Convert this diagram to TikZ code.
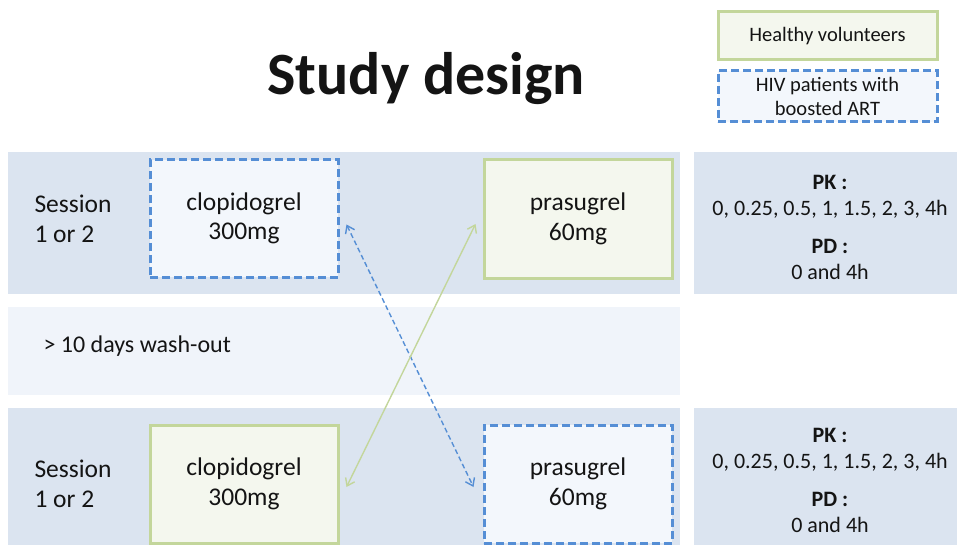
\documentclass[tikz,border=0pt]{standalone}
\usepackage{fontspec}
\setmainfont{Carlito}
\usetikzlibrary{arrows.meta}
\definecolor{rowbg}{RGB}{219,228,240}
\definecolor{washbg}{RGB}{240,244,250}
\definecolor{hivline}{RGB}{85,142,213}
\definecolor{hivfill}{RGB}{243,247,252}
\definecolor{hvline}{RGB}{195,214,155}
\definecolor{hvfill}{RGB}{244,247,238}
\definecolor{txt}{RGB}{20,20,20}
\begin{document}
\begin{tikzpicture}[x=1pt,y=-1pt,
  every node/.style={text=txt},
  band/.style={fill=rowbg,draw=none},
  hivbox/.style={draw=hivline,fill=hivfill,line width=3pt,dash pattern=on 8pt off 4pt,inner sep=0pt,align=center,font=\fontsize{25.5}{29.5}\selectfont},
  hvbox/.style={draw=hvline,fill=hvfill,line width=3pt,inner sep=0pt,align=center,font=\fontsize{25.5}{29.5}\selectfont},
  sess/.style={anchor=west,align=left,font=\fontsize{25.5}{29.5}\selectfont},
  pkpd/.style={align=center,font=\fontsize{22}{25.5}\selectfont},
  hivarrow/.style={draw=hivline,line width=1.4pt,dash pattern=on 5pt off 3pt,{Straight Barb[length=7pt,width=10pt]}-{Straight Barb[length=7pt,width=10pt]}},
  hvarrow/.style={draw=hvline,line width=1.4pt,{Straight Barb[length=7pt,width=10pt]}-{Straight Barb[length=7pt,width=10pt]}}
]
\useasboundingbox[fill=white] (0,0) rectangle (957,545);
% bands
\fill[band] (8,152) rectangle (680,294);
\fill[band] (694,152) rectangle (957,294);
\fill[washbg] (8,307) rectangle (680,395);
\fill[band] (8,408) rectangle (680,545);
\fill[band] (694,408) rectangle (957,545);
% title
\node (title) at (426,79) {\fontsize{60}{66}\selectfont\bfseries Study design};
% legend
\node[hvbox,minimum width=219pt,minimum height=48pt,font=\fontsize{20.5}{24}\selectfont] (leghv) at (827.5,36) {Healthy volunteers};
\node[hivbox,minimum width=219pt,minimum height=51pt,font=\fontsize{20.5}{24}\selectfont] (leghiv) at (827.5,96.5) {HIV patients with\\boosted ART};
% session 1
\node[sess] (s1) at (31,219) {Session\\1 or 2};
\node[hivbox,minimum width=188pt,minimum height=117pt] (ctop) at (244,218.5) {clopidogrel\\300mg\hspace*{0pt}};
\node[hvbox,minimum width=188pt,minimum height=118pt] (ptop) at (578,219) {prasugrel\\60mg};
\node[pkpd] (pk1) at (830,227.5) {\textbf{PK :}\\0, 0.25, 0.5, 1, 1.5, 2, 3, 4h\\[13pt]\textbf{PD :}\\0 and 4h};
% washout
\node[anchor=west,font=\fontsize{24}{28}\selectfont] (wash) at (40,346) {> 10 days wash-out};
% session 2
\node[sess] (s2) at (31,484) {Session\\1 or 2};
\node[hvbox,minimum width=188pt,minimum height=118pt] (cbot) at (244,484) {clopidogrel\\300mg};
\node[hivbox,minimum width=188pt,minimum height=118pt] (pbot) at (578,484) {prasugrel\\60mg};
\node[pkpd] (pk2) at (830,480.5) {\textbf{PK :}\\0, 0.25, 0.5, 1, 1.5, 2, 3, 4h\\[13pt]\textbf{PD :}\\0 and 4h};
% arrows
\draw[hivarrow] ([shift={(7,6)}]ctop.east) -- ([shift={(-9,3)}]pbot.west);
\draw[hvarrow] ([shift={(-7,5)}]ptop.west) -- ([shift={(7,3)}]cbot.east);
\end{tikzpicture}
\end{document}
